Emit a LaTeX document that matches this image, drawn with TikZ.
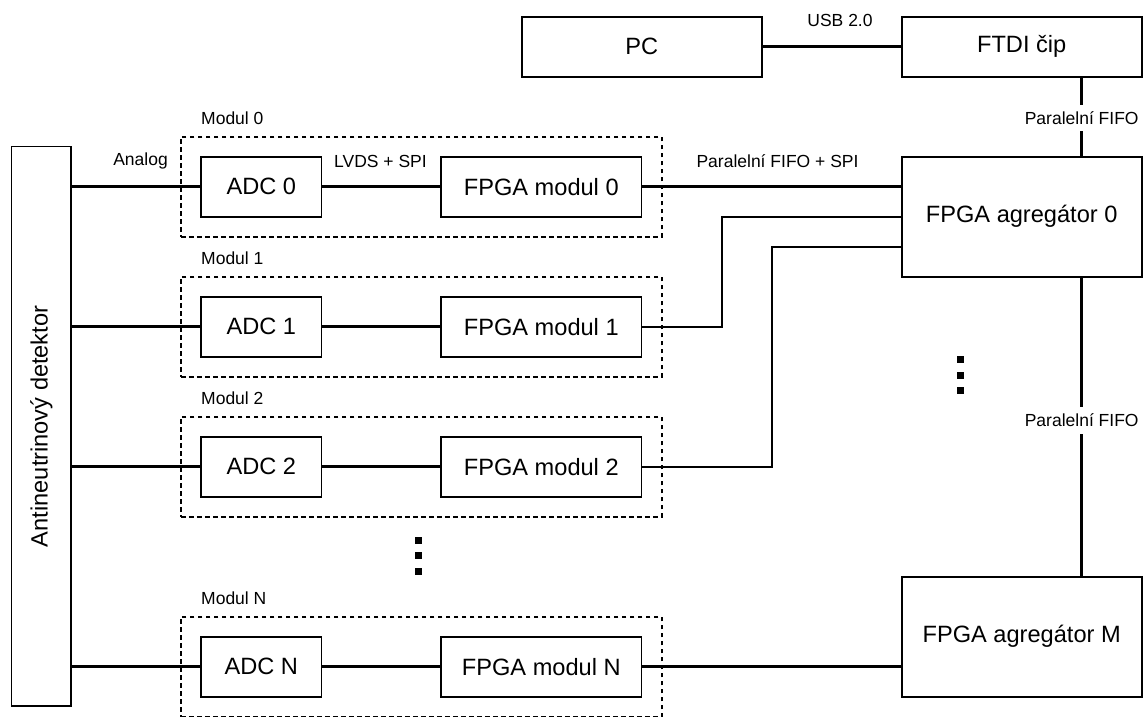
\documentclass[tikz,border=0pt]{standalone}
\usepackage{fontspec}
\setmainfont{Liberation Sans}
\usetikzlibrary{calc}
\tikzset{
  blockbox/.style={draw=black, line width=1.6pt, rectangle, inner sep=0pt,
    font=\fontsize{23.6}{28}\selectfont},
  modframe/.style={draw=black, line width=1.8pt, dash pattern=on 4.6pt off 3.4pt,
    rectangle, inner sep=0pt, minimum width=480.7pt, minimum height=100pt},
  lbl/.style={inner sep=0pt, font=\fontsize{17.5}{21}\selectfont},
  bus/.style={draw=black, line width=2.7pt},
  link/.style={draw=black, line width=1.7pt},
}
\begin{document}
\begin{tikzpicture}[x=1pt, y=-1pt]
\useasboundingbox (0,0) rectangle (1145,716);

% host side
\node[blockbox, minimum width=240pt, minimum height=60pt] (pc) at (641.7,46.7) {PC};
\node[blockbox, minimum width=240pt, minimum height=60pt] (ftdi) at (1021.7,46.7) {FTDI čip};
\node[blockbox, minimum width=240pt, minimum height=120pt] (agr0) at (1021.7,216.7) {FPGA agregátor 0};
\node[blockbox, minimum width=240pt, minimum height=120pt] (agrM) at (1021.7,636.7) {FPGA agregátor M};

% detector
\node[blockbox, minimum width=59.3pt, minimum height=559.3pt,
  label={[rotate=90, inner sep=0pt, font=\fontsize{23.6}{28}\selectfont]center:Antineutrinový detektor}]
  (det) at (41.3,426.3) {};

% readout modules
\foreach \k/\y in {0/186.7, 1/326.7, 2/466.7, N/666.7} {
  \node[modframe] (mod\k) at (421.3,\y) {};
  \node[lbl, anchor=west] (modlbl\k) at (201,{\y-68.7}) {Modul \k};
  \node[blockbox, minimum width=120.7pt, minimum height=60pt] (adc\k) at (261.3,\y) {ADC \k};
  \node[blockbox, minimum width=200.7pt, minimum height=60pt] (fpga\k) at (541.3,\y) {FPGA modul \k};
  \draw[bus] (det.east |- adc\k.west) -- (adc\k.west);
  \draw[bus] (adc\k.east) -- (fpga\k.west);
}

% links to the aggregators
\draw[bus] (fpga0.east) -- (fpga0.east -| agr0.west);
\draw[link] (fpga1.east) -- ++(79.4,0) |- (agr0.west);
\draw[link] (fpga2.east) -- ++(129.7,0) |- ([yshift=-30pt]agr0.west);
\draw[bus] (fpgaN.east) -- (fpgaN.east -| agrM.west);

% host links
\draw[bus] (pc.east) -- (ftdi.west);
\draw[bus] ([xshift=60pt]ftdi.south) -- ([xshift=60pt]agr0.north)
  node[lbl, pos=0.52, fill=white, inner ysep=6.5pt] (fifoA) {Paralelní FIFO};
\draw[bus] ([xshift=60pt]agr0.south) -- ([xshift=60pt]agrM.north)
  node[lbl, pos=0.478, fill=white, inner ysep=7pt] (fifoB) {Paralelní FIFO};

% link labels
\node[lbl] (usb) at (840,20) {USB 2.0};
\node[lbl] (analog) at (140.5,161) {Analog};
\node[lbl] (lvds) at (380.5,161) {LVDS + SPI};
\node[lbl] (pfs) at (777.5,161) {Paralelní FIFO + SPI};

% ellipsis marks
\foreach \yy in {359.7, 375, 390.7} \fill (956.7,{\yy-3.5}) rectangle ++(7,7);
\foreach \yy in {540, 555.3, 571.5} \fill (414.5,{\yy-3.5}) rectangle ++(7,7);
\end{tikzpicture}
\end{document}
